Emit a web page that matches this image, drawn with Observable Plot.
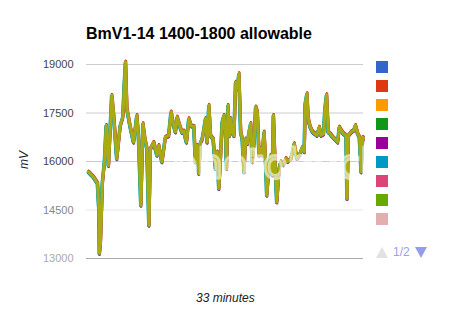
<!DOCTYPE html>
<html><head><meta charset="utf-8">
<script src="https://cdn.jsdelivr.net/npm/d3@7"></script>
<script src="https://cdn.jsdelivr.net/npm/@observablehq/plot@0.6"></script>
<style>
body{margin:0;background:#fff;font-family:"Liberation Sans",Arial,sans-serif;}
#wrap{position:relative;width:450px;height:320px;overflow:hidden;background:#fff}
.abs{position:absolute;white-space:nowrap;line-height:1}
</style></head><body><div id="wrap"></div>
<script>
const title = "BmV1-14 1400-1800 allowable";
const yLabel = "mV";
const xLabel = "33 minutes";
const watermark = "photobucket";
const yTicks = [13000, 14500, 16000, 17500, 19000];
const legendPage = "1/2";

const minutes = [0.24,0.84,1.32,1.49,1.55,1.67,1.91,2.15,2.36,2.63,3.02,3.23,3.62,4.03,4.34,4.51,4.66,4.82,5.22,5.62,
6.01,6.22,6.49,6.73,6.97,7.21,7.45,7.62,8.01,8.41,8.61,9.00,9.41,9.80,10.08,10.32,10.61,10.80,11.12,11.39,
11.60,11.92,12.20,12.47,12.79,13.00,13.19,13.39,13.59,13.79,13.99,14.19,14.38,14.59,14.79,15.10,15.39,15.58,15.78,15.99,
16.18,16.38,16.58,16.70,16.86,17.01,17.18,17.37,17.58,17.78,17.97,18.17,18.38,18.57,18.77,18.97,19.17,19.37,19.57,19.76,
19.97,20.17,20.36,20.57,20.77,20.96,21.16,21.37,21.49,21.76,21.96,22.16,22.28,22.44,22.68,22.96,23.16,23.47,23.76,23.95,
24.36,24.75,25.07,25.35,25.74,25.95,26.07,26.27,26.42,26.66,26.94,27.22,27.46,27.74,27.94,28.25,28.42,28.61,28.81,29.05,
29.33,29.74,29.93,30.13,30.33,30.64,30.93,31.05,31.21,31.53,31.84,32.04,32.32,32.52,32.73,32.92,33.0];

const mV = [15680,15520,15330,14500,13160,13500,15370,16000,17120,15880,18050,17500,16090,17120,17380,18360,19080,17640,17070,16600,
17430,16700,14650,17175,16700,16400,14030,16400,16600,16195,16500,15990,16760,16800,17540,17200,16915,17380,17100,16900,
16950,16600,17330,17100,17100,15990,16500,15630,16600,16700,17000,17330,16600,17740,16800,16700,15780,16300,15165,16200,
17225,17430,16800,15780,17740,16800,17330,16900,16800,18460,18250,18720,16915,16700,15680,16700,16555,16900,17175,15990,
16600,17690,17540,16200,16400,16200,16915,15900,14960,15900,16200,15580,17430,16200,14750,15800,16000,15900,16100,16000,
16090,16555,16090,16200,16450,16300,17795,18100,17330,17070,16915,16860,16810,17070,16810,16860,17640,18070,16915,16860,
16760,16660,16600,17070,16970,16860,16810,14855,16810,16915,16970,17120,16860,16760,15680,16760,16710];

const seriesColors = ["#3366cc","#dc3912","#ff9900","#109618","#990099","#0099c6","#dd4477","#66aa00","#b82e2e","#316395","#994499","#22aa99","#aaaa11"];
const legendColors = ["#3366cc","#dc3912","#ff9900","#109618","#990099","#0099c6","#dd4477","#66aa00","#e2aeae"];

const data = minutes.map((t, i) => ({t, v: mV[i]}));

// underlying series drawn with small pixel shifts so their colours fringe the top series
const shifts = [[0,0.8],[0,-1.3],[0.5,-0.8],[0,1.2],[0,1.6],[-0.8,0.9],[0.6,-1],[0,0.6],[0,-1],[-0.5,1.1],[0.5,1.4],[-1,0.5]];
const under = seriesColors.slice(0, 12).map((c, i) =>
  Plot.line(data, {x: "t", y: "v", stroke: c, strokeWidth: 2, dx: shifts[i][0], dy: shifts[i][1]}));

const tickColor = v => v >= 16000 ? "#444" : (v === 14500 ? "#888" : "#aaa");
const font = "'Liberation Sans', Arial, sans-serif";

const chart = Plot.plot({
  width: 450, height: 320,
  marginLeft: 86, marginRight: 87, marginTop: 64, marginBottom: 62,
  style: {background: "transparent", fontFamily: font},
  x: {domain: [0, 33], axis: null},
  y: {domain: [13000, 19000], axis: null},
  marks: [
    Plot.ruleY(yTicks.filter(v => v > 14500), {stroke: "#cccccc", strokeWidth: 1}),
    Plot.ruleY(yTicks.filter(v => v === 14500), {stroke: "#e8e8e8", strokeWidth: 1}),
    Plot.ruleY(yTicks.filter(v => v === 13000), {stroke: "#aaaaaa", strokeWidth: 1}),
    ...yTicks.map(v => Plot.text([v], {y: d => d, frameAnchor: "left", dx: -13, textAnchor: "end", text: d => String(d), fill: tickColor(v), fontSize: 11, fontFamily: font})),
    ...under,
    Plot.line(data, {x: "t", y: "v", stroke: seriesColors[12], strokeWidth: 3}),
    Plot.text([watermark], {x: () => 10.2, y: () => 15900, text: d => d, textAnchor: "start", fontSize: 40, fill: "none", stroke: "#ffffff", strokeOpacity: 0.6, strokeWidth: 3, fontFamily: "'DejaVu Sans', sans-serif"})
  ]
});

const wrap = document.getElementById("wrap");
chart.style.position = "absolute"; chart.style.left = "0"; chart.style.top = "0";
wrap.appendChild(chart);

function addDiv(text, css) {
  const d = document.createElement("div");
  d.className = "abs"; d.textContent = text;
  Object.assign(d.style, css);
  wrap.appendChild(d);
  return d;
}
addDiv(title, {left: "86px", top: "26px", fontSize: "16px", fontWeight: "bold", color: "#000"});
addDiv(yLabel, {left: "15px", top: "154px", fontSize: "12px", fontStyle: "italic", color: "#222", transform: "rotate(-90deg)", transformOrigin: "center"});
addDiv(xLabel, {left: "196px", top: "292px", fontSize: "12px", fontStyle: "italic", color: "#222"});

legendColors.forEach((c, i) => {
  const s = document.createElement("div");
  Object.assign(s.style, {position: "absolute", left: "376px", top: (61 + i * 19) + "px", width: "12px", height: "12px", background: c});
  wrap.appendChild(s);
});
const up = document.createElement("div");
Object.assign(up.style, {position: "absolute", left: "376px", top: "247px", width: "0", height: "0", borderLeft: "6px solid transparent", borderRight: "6px solid transparent", borderBottom: "11px solid #e2e2e2"});
wrap.appendChild(up);
const down = document.createElement("div");
Object.assign(down.style, {position: "absolute", left: "415px", top: "247px", width: "0", height: "0", borderLeft: "6px solid transparent", borderRight: "6px solid transparent", borderTop: "11px solid #949cf0"});
wrap.appendChild(down);
addDiv(legendPage, {left: "393px", top: "246px", fontSize: "12px", color: "#9aa0ee"});
</script></body></html>
